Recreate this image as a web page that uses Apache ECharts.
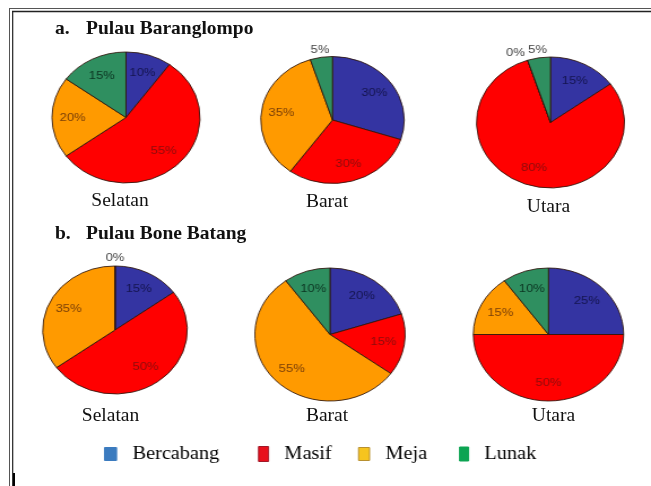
<!DOCTYPE html>
<html><head><meta charset="utf-8">
<script src="https://cdn.jsdelivr.net/npm/echarts@6/dist/echarts.min.js"></script>
<style>
html,body{margin:0;padding:0;background:#fff;width:651px;height:486px;overflow:hidden}
#wrap{position:relative;width:651px;height:486px}
#pies{position:absolute;left:0;top:0;width:576px;height:486px;transform:scaleX(1.1302);transform-origin:0 0}
#txt{position:absolute;left:0;top:0;width:651px;height:486px}
</style></head><body>
<div id="wrap"><div id="pies"></div><div id="txt"></div></div>
<script>
// ---- data ----
const categories = ['Bercabang', 'Masif', 'Meja', 'Lunak'];
const panelLetters = ['a.', 'b.'];
const panelTitles = ['Pulau Baranglompo', 'Pulau Bone Batang'];
const stations = ['Selatan', 'Barat', 'Utara'];
const baranglompoSelatan = [10, 55, 20, 15];
const baranglompoBarat = [30, 30, 35, 5];
const baranglompoUtara = [15, 80, 0, 5];
const boneBatangSelatan = [15, 50, 35, 0];
const boneBatangBarat = [20, 15, 55, 10];
const boneBatangUtara = [25, 50, 15, 10];
const pieValues = [baranglompoSelatan, baranglompoBarat, baranglompoUtara,
                   boneBatangSelatan, boneBatangBarat, boneBatangUtara];

// ---- styles / layout ----
const SX = 651 / 576;
const pieColors = ['#3434a2', '#ff0000', '#ff9a00', '#2f8f60'];
const labelColors = ['#15154f', '#8c0c0c', '#7a3f08', '#0c3522'];
const legendColors = ['#3b7bbf', '#e8101c', '#f6c41e', '#0ca452'];
const legendBorders = ['#3b7bbf', '#a01828', '#b89030', '#0ca452'];
const pieLayout = [
  {cx: 126, cy: 117.5, r: 65.5}, {cx: 332.5, cy: 120, r: 63.5}, {cx: 550.5, cy: 122.5, r: 65.5},
  {cx: 115, cy: 330, r: 64}, {cx: 330, cy: 334.5, r: 66.5}, {cx: 548.5, cy: 334.5, r: 66.5}
];
const legendPos = [{x: 104, w: 12, h: 13}, {x: 258, w: 10, h: 15}, {x: 358, w: 11, h: 13}, {x: 459, w: 9, h: 14}];
const serif = '"Liberation Serif", "Times New Roman", serif';
const sans = '"Liberation Sans", Arial, sans-serif';

const pieChart = echarts.init(document.getElementById('pies'), null, {renderer: 'canvas'});

function labelLayout(params) {
  let L = null;
  try {
    L = pieChart.getModel().getSeriesByIndex(params.seriesIndex).getData().getItemLayout(params.dataIndex);
  } catch (e) { return {}; }
  if (!L) return {};
  const mid = (L.startAngle + L.endAngle) / 2;
  const span = Math.abs(L.endAngle - L.startAngle);
  const dx = Math.cos(mid), dy = Math.sin(mid);
  if (span > 0.4) {
    return {x: L.cx + dx * L.r * 0.72, y: L.cy + dy * L.r * 0.72, align: 'center', verticalAlign: 'middle'};
  }
  const k = 1.12;
  return {x: L.cx + dx * L.r * k, y: L.cy + dy * L.r * k,
          align: dx < -0.25 ? 'right' : (dx > 0.25 ? 'left' : 'center'), verticalAlign: 'middle'};
}

pieChart.setOption({
  animation: false,
  legend: categories.map((c, j) => ({
    data: [{name: c, itemStyle: {color: legendColors[j], borderColor: legendBorders[j], borderWidth: 1}}],
    left: legendPos[j].x / SX, top: 445, padding: 0, icon: 'rect',
    itemWidth: legendPos[j].w / SX, itemHeight: legendPos[j].h, selectedMode: false,
    textStyle: {fontFamily: serif, fontSize: 18, color: '#000', padding: [0, 0, 0, 9]}
  })),
  series: pieValues.map((vals, i) => ({
    type: 'pie', center: [pieLayout[i].cx / SX, pieLayout[i].cy], radius: pieLayout[i].r,
    startAngle: 90, clockwise: true, avoidLabelOverlap: false, silent: true,
    emphasis: {disabled: true},
    itemStyle: {borderColor: 'rgba(45,20,10,0.95)', borderWidth: 0.9},
    label: {show: true, position: 'inside', formatter: '{c}%', fontSize: 11.5, fontFamily: sans},
    labelLine: {show: false},
    labelLayout: labelLayout,
    data: categories.map((c, j) => ({
      name: c, value: vals[j],
      itemStyle: {color: pieColors[j]},
      label: {color: vals[j] < 8 ? '#444444' : labelColors[j]}
    }))
  }))
});

// ---- text layer ----
const txtChart = echarts.init(document.getElementById('txt'), null, {renderer: 'canvas'});
const titleY = [29, 234];
const stationPos = [
  [{x: 120, y: 201}, {x: 327, y: 202}, {x: 548.5, y: 207}],
  [{x: 110.5, y: 415.5}, {x: 327, y: 415.5}, {x: 553.5, y: 415.5}]
];
const g = [];
// frame
g.push({type: 'line', shape: {x1: 9, y1: 8.5, x2: 651, y2: 8.5}, style: {stroke: '#555', lineWidth: 1}});
g.push({type: 'line', shape: {x1: 12, y1: 11.5, x2: 651, y2: 11.5}, style: {stroke: '#222', lineWidth: 1.3}});
g.push({type: 'line', shape: {x1: 9.5, y1: 8, x2: 9.5, y2: 486}, style: {stroke: '#555', lineWidth: 1}});
g.push({type: 'line', shape: {x1: 12.7, y1: 11, x2: 12.7, y2: 486}, style: {stroke: '#222', lineWidth: 1.2}});
g.push({type: 'line', shape: {x1: 14, y1: 473, x2: 14, y2: 486}, style: {stroke: '#000', lineWidth: 2}});
panelLetters.forEach((l, i) => {
  g.push({type: 'text', x: 55, y: titleY[i], style: {text: l, font: 'bold 19.5px ' + serif, fill: '#111', align: 'left', verticalAlign: 'middle'}});
  g.push({type: 'text', x: 86, y: titleY[i], style: {text: panelTitles[i], font: 'bold 19.5px ' + serif, fill: '#111', align: 'left', verticalAlign: 'middle'}});
  stations.forEach((s, j) => {
    g.push({type: 'text', x: stationPos[i][j].x, y: stationPos[i][j].y,
      style: {text: s, font: '19.5px ' + serif, fill: '#111', align: 'center', verticalAlign: 'middle'}});
  });
});
txtChart.setOption({animation: false, graphic: g});
</script>
</body></html>
